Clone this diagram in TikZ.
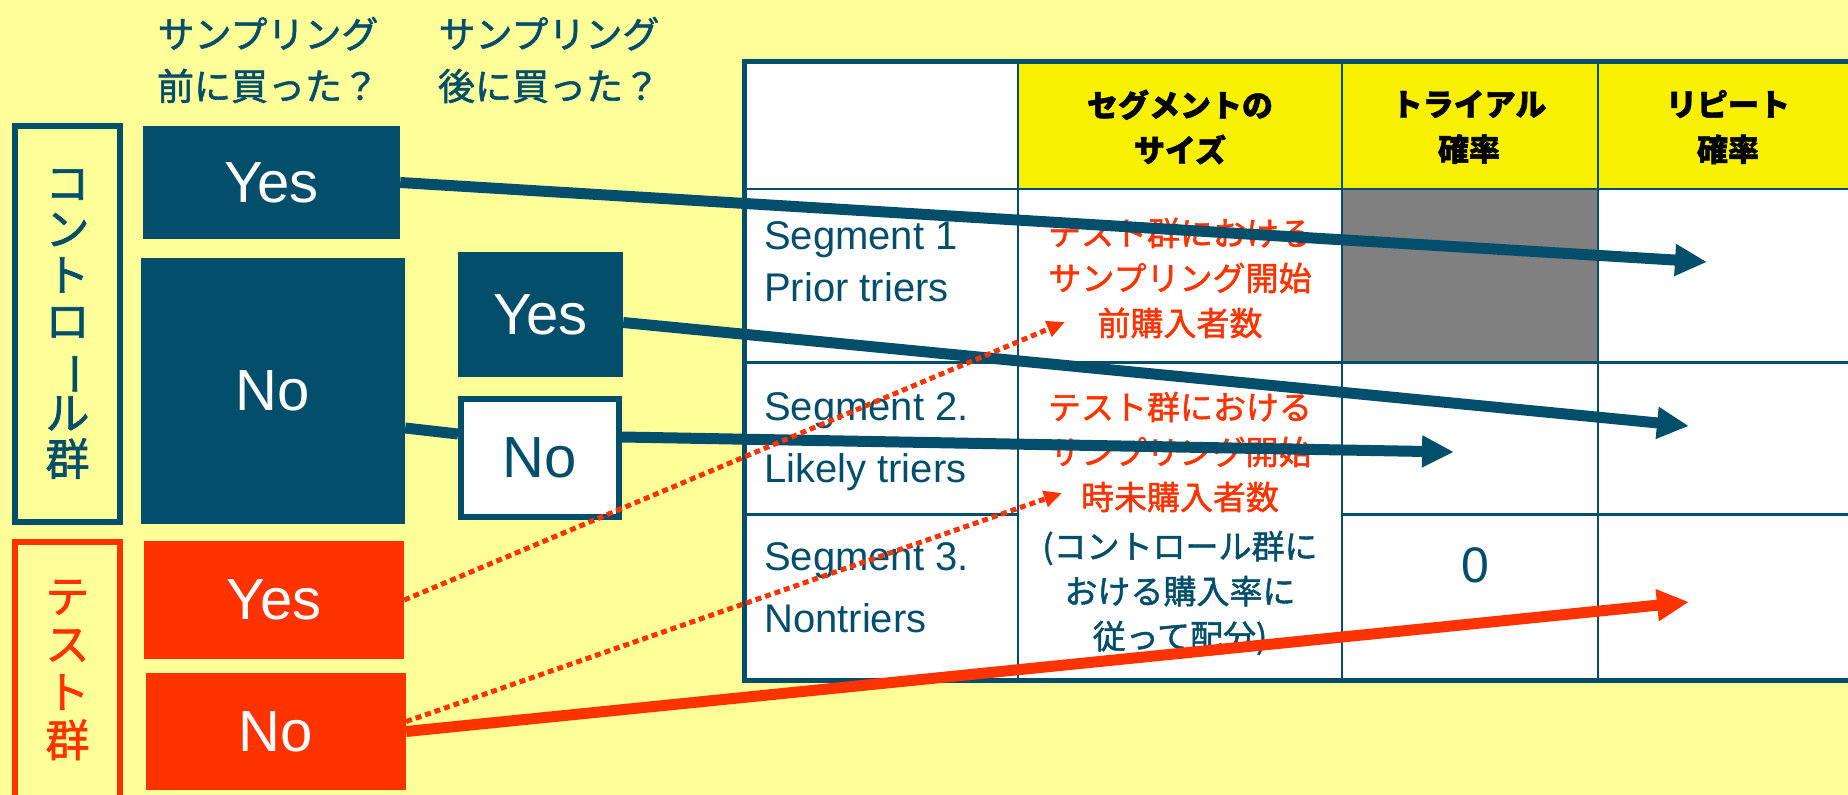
\documentclass[tikz,border=0pt]{standalone}
\usepackage{fontspec}
\setmainfont{Liberation Sans}
\newfontfamily\jp[FakeBold=1.5]{Noto Sans CJK JP}
\usetikzlibrary{arrows.meta}

\definecolor{ctrlblue}{HTML}{034F6B}
\definecolor{testred}{HTML}{FF3300}
\definecolor{bgyellow}{HTML}{FFFF99}
\definecolor{headyellow}{HTML}{F7F000}
\definecolor{cellgray}{HTML}{808080}

\begin{document}
\begin{tikzpicture}[x=1pt,y=-1pt,
    answer/.style={inner sep=0pt,font=\fontsize{58}{60}\selectfont},
    ctrlbox/.style={answer,fill=ctrlblue,text=white},
    testbox/.style={answer,fill=testred,text=white},
    postno/.style={answer,fill=white,draw=ctrlblue,line width=6pt,text=ctrlblue},
    groupframe/.style={draw=#1,text=#1,line width=6pt,inner sep=0pt,align=center,
        minimum width=105pt,font=\jp\fontsize{44}{46}\selectfont},
    question/.style={text=ctrlblue,align=center,font=\jp\fontsize{37}{52}\selectfont},
    header/.style={align=center,font=\jp\bfseries\fontsize{31}{45}\selectfont},
    segment/.style={anchor=west,inner sep=0pt,align=left,text=ctrlblue},
    note/.style={align=center,inner sep=0pt,font=\jp\fontsize{33}{45}\selectfont},
    thick arrow/.style={line width=11pt,-{Triangle[length=32pt,width=30pt]}},
    dotted arrow/.style={testred,line width=5pt,dash pattern=on 6pt off 4pt,
        -{Triangle[length=18pt,width=16pt]}}]

    \useasboundingbox (0,0) rectangle (1848,795);
    \clip (0,0) rectangle (1848,795);
    \fill[bgyellow] (0,0) rectangle (1848,795);

    % Questions above the boxes
    \node[question] (qBefore) at (268,60) {サンプリング\\前に買った？};
    \node[question] (qAfter) at (549,60) {サンプリング\\後に買った？};

    % Group frames
    \node[groupframe=ctrlblue,minimum height=396pt] (ctrl) at (67.5,324)
        {コ\\ン\\ト\\ロ\\\rotatebox[origin=c]{-90}{ー}\\ル\\群};
    \node[groupframe=testred,minimum height=256pt,font=\jp\fontsize{44}{48}\selectfont] (test) at (67.5,670)
        {テ\\ス\\ト\\群};

    % Table: cells
    \fill[white] (744,61) rectangle (1860,680);
    \fill[headyellow] (1018,61) rectangle (1860,189); % header
    \fill[cellgray] (1342,189) rectangle (1598,362); % no trial rate
    % Table: inner lines
    \draw[ctrlblue,line width=2.5pt] (744,189) -- (1860,189);
    \draw[ctrlblue,line width=3pt] (744,362) -- (1860,362);
    \draw[ctrlblue,line width=3pt] (744,514) -- (1018,514);
    \draw[ctrlblue,line width=3pt] (1342,514) -- (1860,514);
    \draw[ctrlblue,line width=2pt] (1018,61) -- (1018,680);
    \draw[ctrlblue,line width=2pt] (1342,61) -- (1342,680);
    \draw[ctrlblue,line width=2pt] (1598,61) -- (1598,680);
    % Table: outer border
    \draw[ctrlblue,line width=5pt] (1860,61) -- (744,61) -- (744,680) -- (1860,680);

    % Table: header texts
    \node[header] (hSize) at (1180,127) {セグメントの\\サイズ};
    \node[header] (hTrial) at (1469,127) {トライアル\\確率};
    \node[header] (hRepeat) at (1728,127) {リピート\\確率};

    % Table: segments
    \node[segment,font=\fontsize{40}{52}\selectfont] (seg1) at (764,262) {Segment 1\\Prior triers};
    \node[segment,font=\fontsize{40}{62}\selectfont] (seg2) at (764,442) {Segment 2.\\Likely triers};
    \node[segment,font=\fontsize{40}{62}\selectfont] (seg3) at (764,588) {Segment 3.\\Nontriers};

    % Table: sizes
    \node[note,text=testred] (size1) at (1180,278) {テスト群における\\サンプリング開始\\前購入者数};
    \node[note,text=testred] (size2) at (1180,452) {テスト群における\\サンプリング開始\\時未購入者数};
    \node[note,text=ctrlblue] (size3) at (1180,593) {(コントロール群に\\おける購入率に\\従って配分)};
    \node[text=ctrlblue,inner sep=0pt,font=\fontsize{50}{50}\selectfont] (zero) at (1475,565) {0};

    % Answer boxes
    \node[ctrlbox,minimum width=257pt,minimum height=113pt] (cYes) at (271.5,182.5) {Yes};
    \node[ctrlbox,minimum width=264pt,minimum height=266pt] (cNo) at (273,391) {No};
    \node[ctrlbox,minimum width=165pt,minimum height=125pt] (pYes) at (540.5,314.5) {Yes};
    \draw[ctrlblue,line width=11pt] ([yshift=-37pt]cNo.east) -- (458,434);
    \node[postno,minimum width=158pt,minimum height=118pt] (pNo) at (540,458) {No};
    \node[testbox,minimum width=260pt,minimum height=118pt] (tYes) at (274,600) {Yes};
    \node[testbox,minimum width=260pt,minimum height=117pt] (tNo) at (276,731.5) {No};

    % Arrow ends
    \coordinate (endPrior) at (1707,262);
    \coordinate (endRepeat) at (1689,426);
    \coordinate (endTrial) at (1454,452);
    \coordinate (endTest) at (1689,602);
    \coordinate (endSize1) at (1065,322);
    \coordinate (endSize2) at (1062,493);

    % Arrows
    \draw[thick arrow,ctrlblue] (cYes.east) -- (endPrior);
    \draw[thick arrow,ctrlblue] ([yshift=-8pt]pYes.east) -- (endRepeat);
    \draw[thick arrow,ctrlblue] ([yshift=21pt]pNo.east) -- (endTrial);
    \draw[thick arrow,testred] (tNo.east) -- (endTest);
    \draw[dotted arrow] (tYes.east) -- (endSize1);
    \draw[dotted arrow] ([yshift=10pt]tNo.east) -- (endSize2);
\end{tikzpicture}
\end{document}
